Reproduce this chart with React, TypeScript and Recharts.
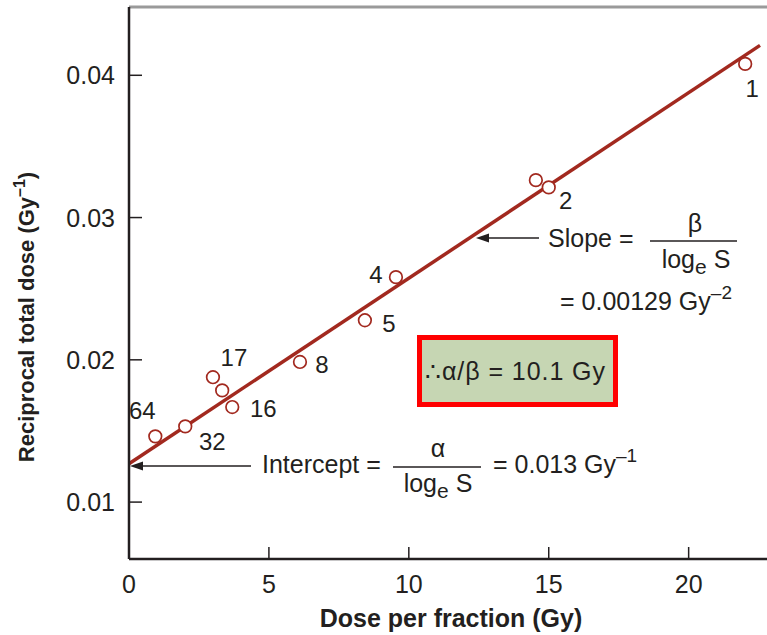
import React from 'react';
import { ScatterChart, Scatter, XAxis, YAxis, ReferenceLine, Customized } from 'recharts';

// dose per fraction (Gy) and reciprocal total dose (1/Gy)
const dosePerFraction = [22.02, 14.54, 15.0, 9.54, 8.43, 6.11, 3.0, 3.33, 3.69, 2.01, 0.94];
const reciprocalDose = [0.0408, 0.03263, 0.03212, 0.02581, 0.02278, 0.01985, 0.01878, 0.01785, 0.01668, 0.01532, 0.01462];
const fractionCounts = ['1', '', '2', '4', '5', '8', '17', '', '16', '32', '64'];

const fitDose = [0, 22.55];
const fitReciprocal = [0.0127, 0.0421];

const xTicks = [0, 5, 10, 15, 20];
const yTicks = [0.01, 0.02, 0.03, 0.04];
const xDomain = [0, 22.8];
const yDomain = [0.006, 0.0448];

const ink = '#231f20';
const red = '#a2291f';
const font = '"Liberation Sans", Arial, Helvetica, sans-serif';

// where each fraction-number label sits relative to its point
const labelOffsets: Record<string, [number, number]> = {
  '1': [7, 24],
  '2': [17, 13],
  '4': [-20, -3],
  '5': [24, 3],
  '8': [22, 2],
  '17': [21, -20],
  '16': [31, 1],
  '32': [27, 15],
  '64': [-13, -26],
};

const points = dosePerFraction.map((d, i) => ({ dose: d, recip: reciprocalDose[i], n: fractionCounts[i] }));

const Marker = (props: any) => {
  const { cx, cy, payload } = props;
  const off = labelOffsets[payload.n];
  return (
    <g>
      <circle cx={cx} cy={cy} r={6.3} fill="#fff" stroke={red} strokeWidth={1.7} />
      {off && (
        <text x={cx + off[0]} y={cy + off[1]} dy="0.36em" textAnchor="middle" fontSize={24} fill={ink} fontFamily={font}>
          {payload.n}
        </text>
      )}
    </g>
  );
};

const YTick = (props: any) => {
  const { x, y, payload } = props;
  return (
    <g>
      <line x1={x} x2={x + 13} y1={y} y2={y} stroke={ink} strokeWidth={1.5} />
      <text x={x - 14} y={y} dy="0.36em" textAnchor="end" fontSize={25} fill={ink} fontFamily={font}>
        {payload.value.toFixed(2)}
      </text>
    </g>
  );
};

const XTick = (props: any) => {
  const { x, y, payload } = props;
  return (
    <g>
      <line x1={x} x2={x} y1={y} y2={y - 12} stroke={ink} strokeWidth={1.5} />
      <text x={x} y={y + 34} textAnchor="middle" fontSize={25} fill={ink} fontFamily={font}>
        {payload.value}
      </text>
    </g>
  );
};

const Arrow = ({ x1, x2, y }: { x1: number; x2: number; y: number }) => (
  <g>
    <line x1={x1 + 10} x2={x2} y1={y} y2={y} stroke={ink} strokeWidth={1.4} />
    <path d={`M${x1},${y} L${x1 + 13},${y - 4.5} L${x1 + 13},${y + 4.5} Z`} fill={ink} />
  </g>
);

const Annotations = () => (
  <g fontFamily={font} fill={ink} fontSize={25}>
    {/* slope */}
    <Arrow x1={476} x2={539} y={238} />
    <text x={548} y={247}>Slope =</text>
    <text x={695} y={232} textAnchor="middle">β</text>
    <line x1={650} x2={737} y1={241} y2={241} stroke={ink} strokeWidth={1.5} />
    <text x={696} y={268} textAnchor="middle">
      log<tspan fontSize={21} dy={6}>e</tspan>
      <tspan dy={-6}> S</tspan>
    </text>
    <text x={560} y={310}>
      = 0.00129 Gy<tspan fontSize={19} dy={-11}>–2</tspan>
    </text>

    {/* alpha/beta box */}
    <rect x={419.5} y={337.5} width={196} height={67} fill="#c6d6b3" stroke="#ff0000" strokeWidth={5} />
    <text x={425} y={380} textLength={180}>∴α/β = 10.1 Gy</text>

    {/* intercept */}
    <Arrow x1={130} x2={251} y={466} />
    <text x={262} y={473}>Intercept =</text>
    <text x={438} y={457} textAnchor="middle">α</text>
    <line x1={393} x2={481} y1={467} y2={467} stroke={ink} strokeWidth={1.5} />
    <text x={438} y={492} textAnchor="middle">
      log<tspan fontSize={21} dy={6}>e</tspan>
      <tspan dy={-6}> S</tspan>
    </text>
    <text x={493} y={473}>
      = 0.013 Gy<tspan fontSize={19} dy={-11}>–1</tspan>
    </text>

    {/* axis titles */}
    <text x={451} y={627} textAnchor="middle" fontWeight="bold" fontSize={25}>
      Dose per fraction (Gy)
    </text>
    <text x={34} y={317} textAnchor="middle" fontWeight="bold" fontSize={22} transform="rotate(-90 34 317)">
      Reciprocal total dose (Gy<tspan fontSize={16} dy={-9}>–1</tspan>
      <tspan dy={9}>)</tspan>
    </text>
  </g>
);

export default function App() {
  return (
    <div style={{ position: 'absolute', left: 0, top: 0, background: '#fff' }}>
      <ScatterChart width={767} height={635} margin={{ top: 7, right: 0, bottom: 0, left: 0 }}>
        <XAxis
          type="number"
          dataKey="dose"
          domain={xDomain}
          ticks={xTicks}
          allowDataOverflow
          height={76}
          tickSize={0}
          tickMargin={0}
          tickLine={false}
          tick={<XTick />}
          axisLine={{ stroke: ink, strokeWidth: 2.5 }}
        />
        <YAxis
          type="number"
          dataKey="recip"
          domain={yDomain}
          ticks={yTicks}
          allowDataOverflow
          width={129}
          tickSize={0}
          tickMargin={0}
          tickLine={false}
          tick={<YTick />}
          axisLine={{ stroke: ink, strokeWidth: 2.5 }}
        />
        <ReferenceLine y={yDomain[1]} stroke="#9a9a9a" strokeWidth={3} />
        <ReferenceLine
          segment={[
            { x: fitDose[0], y: fitReciprocal[0] },
            { x: fitDose[1], y: fitReciprocal[1] },
          ]}
          stroke={red}
          strokeWidth={3.5}
        />
        <Scatter data={points} shape={<Marker />} isAnimationActive={false} />
        <Customized component={<Annotations />} />
      </ScatterChart>
    </div>
  );
}
